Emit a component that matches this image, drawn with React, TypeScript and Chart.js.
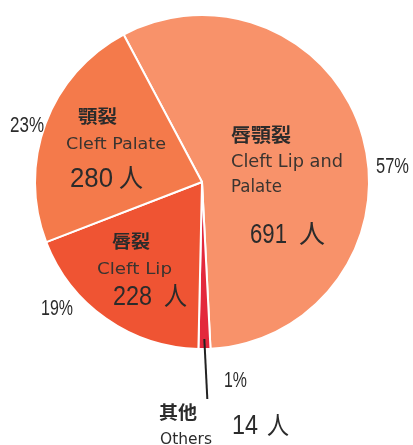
import React, { useEffect, useRef } from "react";
import { Chart, registerables } from "chart.js";

Chart.register(...registerables);

const categories = ["唇顎裂 Cleft Lip and Palate", "其他 Others", "唇裂 Cleft Lip", "顎裂 Cleft Palate"];
const counts = [691, 14, 228, 280];
const percentLabels = ["57%", "1%", "19%", "23%"];
const sliceColors = ["#F8926A", "#E3283C", "#EF5433", "#F47A4B"];

const CJK = '"Noto Sans CJK JP", "Noto Sans CJK SC", sans-serif';
const LAT = '"Liberation Sans", Arial, sans-serif';
const GOTH = '"DejaVu Sans", "Noto Sans", sans-serif';

type Txt = {
  t: string;
  x: number;
  y: number;
  size: number;
  w: number;
  fam: string;
  weight?: string;
  base?: CanvasTextBaseline;
  color?: string;
};

// label layout (text, placement)
const texts: Txt[] = [
  { t: "唇顎裂", x: 231, y: 134.5, size: 19, w: 60, fam: CJK, weight: "bold", base: "middle" },
  { t: "Cleft Lip and", x: 231, y: 167, size: 17, w: 112, fam: GOTH, color: "#3a3430" },
  { t: "Palate", x: 231, y: 192, size: 17, w: 51, fam: GOTH, color: "#3a3430" },
  { t: String(counts[0]), x: 250, y: 243, size: 27, w: 37, fam: LAT },
  { t: "人", x: 299, y: 233, size: 26, w: 26, fam: CJK, base: "middle" },

  { t: "顎裂", x: 78, y: 116, size: 18, w: 39, fam: CJK, weight: "bold", base: "middle" },
  { t: "Cleft Palate", x: 66, y: 149, size: 16, w: 100, fam: GOTH, color: "#3a3430" },
  { t: String(counts[3]), x: 70, y: 187, size: 27, w: 43, fam: LAT },
  { t: "人", x: 119, y: 177, size: 26, w: 24, fam: CJK, base: "middle" },

  { t: "唇裂", x: 112, y: 241, size: 18, w: 38, fam: CJK, weight: "bold", base: "middle" },
  { t: "Cleft Lip", x: 97, y: 274, size: 16, w: 75, fam: GOTH, color: "#3a3430" },
  { t: String(counts[2]), x: 113, y: 305, size: 27, w: 39, fam: LAT },
  { t: "人", x: 164, y: 295, size: 26, w: 23, fam: CJK, base: "middle" },

  { t: percentLabels[3], x: 10, y: 132, size: 22, w: 34, fam: LAT },
  { t: percentLabels[0], x: 376, y: 173, size: 22, w: 33, fam: LAT },
  { t: percentLabels[2], x: 41, y: 315, size: 22, w: 32, fam: LAT },
  { t: percentLabels[1], x: 224, y: 387, size: 22, w: 23, fam: LAT },

  { t: "其他", x: 159, y: 412.5, size: 18, w: 38, fam: CJK, weight: "bold", base: "middle" },
  { t: "Others", x: 160, y: 444, size: 16, w: 52, fam: GOTH },
  { t: String(counts[1]), x: 232, y: 434, size: 27, w: 26, fam: LAT },
  { t: "人", x: 267, y: 424, size: 25, w: 22, fam: CJK, base: "middle" },
];

const labelPlugin = {
  id: "pieLabels",
  afterDraw(chart: any) {
    const ctx: CanvasRenderingContext2D = chart.ctx;
    const meta = chart.getDatasetMeta(0);
    const arc = meta.data[1];
    ctx.save();
    // leader line for the small "Others" slice
    if (arc) {
      const mid = (arc.startAngle + arc.endAngle) / 2;
      const r = arc.outerRadius;
      const x0 = arc.x + Math.cos(mid) * (r - 10);
      const y0 = arc.y + Math.sin(mid) * (r - 10);
      ctx.strokeStyle = "#222";
      ctx.lineWidth = 2;
      ctx.beginPath();
      ctx.moveTo(x0, y0);
      ctx.lineTo(x0 + 3, y0 + 60);
      ctx.stroke();
    }
    for (const s of texts) {
      ctx.font = `${s.weight || "normal"} ${s.size}px ${s.fam}`;
      ctx.textAlign = "left";
      ctx.textBaseline = s.base || "alphabetic";
      ctx.fillStyle = s.color || "#2b2b2b";
      const m = ctx.measureText(s.t).width;
      const sx = m > 0 ? s.w / m : 1;
      ctx.save();
      ctx.translate(s.x, s.y);
      ctx.scale(sx, 1);
      ctx.fillText(s.t, 0, 0);
      ctx.restore();
    }
    ctx.restore();
  },
};

export default function App() {
  const ref = useRef<HTMLCanvasElement | null>(null);
  useEffect(() => {
    if (!ref.current) return;
    const chart = new Chart(ref.current, {
      type: "pie",
      data: {
        labels: categories,
        datasets: [
          {
            data: counts,
            backgroundColor: sliceColors,
            borderColor: "#ffffff",
            borderWidth: 2,
          },
        ],
      },
      options: {
        responsive: false,
        animation: false,
        rotation: -28,
        layout: { padding: { left: 34, top: 14, right: 43, bottom: 95 } },
        plugins: {
          legend: { display: false },
          tooltip: { enabled: false },
        },
      },
      plugins: [labelPlugin],
    });
    return () => chart.destroy();
  }, []);
  return (
    <div style={{ position: "fixed", left: 0, top: 0, width: 413, height: 445, background: "#fff" }}>
      <canvas ref={ref} width={413} height={445} style={{ width: 413, height: 445 }} />
    </div>
  );
}
